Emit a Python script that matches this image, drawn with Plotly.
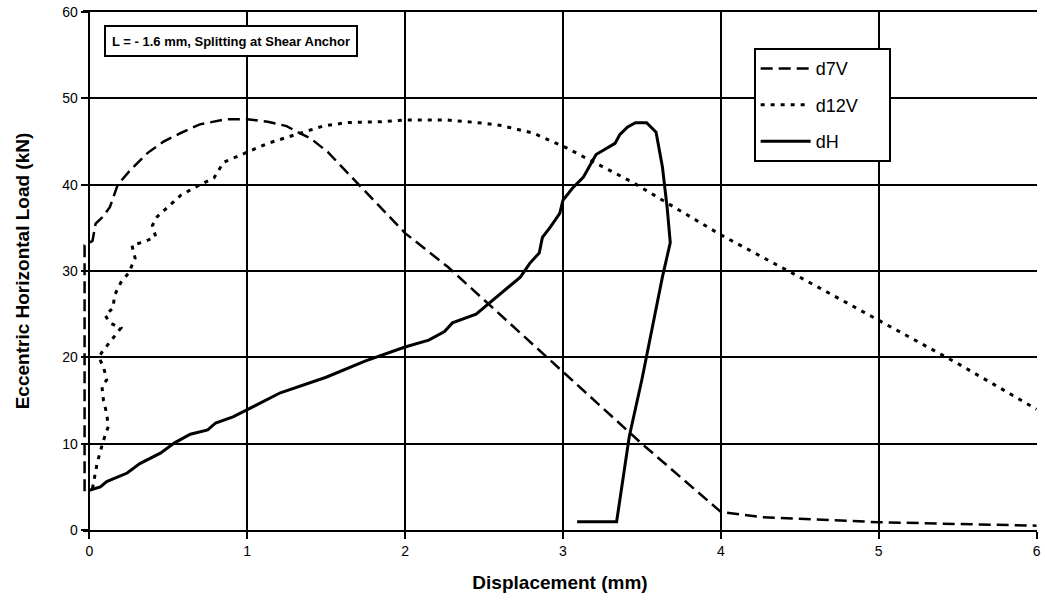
import plotly.graph_objects as go

# ---- data ----
d7v_x = [-0.03, -0.03, 0.02, 0.04, 0.08, 0.13, 0.18, 0.26, 0.37, 0.47, 0.58, 0.70, 0.87, 1.00,
         1.13, 1.25, 1.32, 1.40, 1.51, 2.00, 2.27, 3.00, 3.50, 4.00, 4.25, 4.50, 5.00, 5.50, 6.00]
d7v_y = [4.5, 33.0, 33.5, 35.5, 36.2, 37.4, 40.0, 41.7, 43.7, 45.0, 46.0, 47.0, 47.6, 47.6,
         47.3, 46.8, 46.1, 45.4, 43.8, 34.4, 30.5, 18.3, 10.0, 2.1, 1.5, 1.3, 0.9, 0.7, 0.5]

d12v_x = [0.02, 0.05, 0.09, 0.12, 0.11, 0.09, 0.08, 0.11, 0.09, 0.06, 0.08, 0.15, 0.20, 0.13,
          0.10, 0.15, 0.16, 0.20, 0.25, 0.29, 0.27, 0.35, 0.42, 0.40, 0.43, 0.49, 0.58, 0.70,
          0.79, 0.85, 1.00, 1.13, 1.34, 1.48, 1.63, 1.84, 2.01, 2.27, 2.46, 2.60, 2.81, 3.02,
          3.23, 3.44, 3.65, 3.87, 4.00, 4.50, 5.00, 5.50, 6.00]
d12v_y = [4.8, 7.8, 10.4, 12.0, 13.5, 15.0, 16.6, 17.4, 18.9, 20.0, 20.6, 22.2, 23.4, 24.0,
          24.9, 25.7, 27.2, 28.7, 29.8, 31.5, 33.0, 33.4, 34.0, 35.3, 36.3, 37.3, 38.8, 40.0,
          40.8, 42.6, 43.8, 44.8, 46.0, 46.8, 47.2, 47.3, 47.5, 47.5, 47.2, 46.9, 46.0, 44.3,
          42.3, 40.3, 38.0, 35.6, 34.2, 29.3, 24.3, 19.3, 14.0]

dh_x = [0.00, 0.07, 0.11, 0.24, 0.32, 0.45, 0.54, 0.64, 0.75, 0.80, 0.91, 1.02, 1.21, 1.50,
        1.75, 2.00, 2.15, 2.25, 2.30, 2.45, 2.55, 2.65, 2.73, 2.79, 2.85, 2.87, 2.92, 2.98,
        3.00, 3.06, 3.13, 3.21, 3.33, 3.36, 3.41, 3.46, 3.53, 3.59, 3.63, 3.66, 3.68, 3.63,
        3.50, 3.42, 3.34, 3.34, 3.09]
dh_y = [4.6, 5.0, 5.6, 6.6, 7.7, 8.9, 10.1, 11.1, 11.6, 12.4, 13.1, 14.1, 15.9, 17.7,
        19.6, 21.2, 22.0, 23.0, 24.0, 25.0, 26.5, 28.0, 29.3, 30.9, 32.1, 33.9, 35.1, 36.7,
        38.2, 39.6, 40.9, 43.5, 44.8, 45.8, 46.7, 47.2, 47.2, 46.1, 42.1, 37.4, 33.3, 29.3,
        17.4, 10.8, 1.5, 0.95, 0.95]

x_ticks = [0, 1, 2, 3, 4, 5, 6]
y_ticks = [0, 10, 20, 30, 40, 50, 60]
note_text = "L = - 1.6 mm, Splitting at Shear Anchor"

FONT = "Liberation Sans, Arial, sans-serif"
PAD = "\u00a0\u00a0\u00a0\u00a0\u00a0"

fig = go.Figure()
fig.add_trace(go.Scatter(x=d7v_x, y=d7v_y, mode="lines", name="d7V" + PAD, legendgroup="a",
                         line=dict(color="black", width=2.5, dash="12px,6px")))
fig.add_trace(go.Scatter(x=d12v_x, y=d12v_y, mode="lines", name="d12V" + PAD, legendgroup="b",
                         line=dict(color="black", width=3, dash="4px,6px")))
fig.add_trace(go.Scatter(x=dh_x, y=dh_y, mode="lines", name="dH" + PAD, legendgroup="c",
                         line=dict(color="black", width=3)))

fig.update_layout(
    width=1045, height=607,
    margin=dict(l=83, r=8, t=12, b=77, autoexpand=False),
    paper_bgcolor="white", plot_bgcolor="white",
    font=dict(family=FONT, color="black", size=14),
    showlegend=True,
    legend=dict(x=0.703, y=0.93, xanchor="left", yanchor="top",
                bgcolor="white", bordercolor="black", borderwidth=2,
                font=dict(size=18), tracegroupgap=10,
                itemwidth=50),
    annotations=[dict(text="<b>" + note_text + "</b>", xref="paper", yref="paper",
                      x=0.022, y=0.975, xanchor="left", yanchor="top", showarrow=False,
                      font=dict(size=13, family=FONT), bgcolor="white",
                      width=248, height=26, align="center",
                      bordercolor="black", borderwidth=2, borderpad=1)],
)

fig.update_xaxes(
    range=[-0.04, 6.003], tickvals=x_ticks, ticktext=[str(v) for v in x_ticks],
    automargin=False,
    showgrid=True, gridcolor="black", gridwidth=1.5,
    zeroline=True, zerolinecolor="black", zerolinewidth=1.5,
    showline=True, linecolor="black", linewidth=1.5, mirror=True,
    ticks="outside", ticklen=7, tickcolor="black", tickwidth=1.5,
    tickfont=dict(size=14),
    title=dict(text="<b>Displacement (mm)</b>", font=dict(size=19), standoff=18),
)
fig.update_yaxes(
    range=[0, 60.02], tickvals=y_ticks, ticktext=[str(v) for v in y_ticks],
    anchor="free", position=0.0066, automargin=False,
    showgrid=True, gridcolor="black", gridwidth=1.5,
    zeroline=False,
    showline=True, linecolor="black", linewidth=1.5,
    ticks="outside", ticklen=8, tickcolor="black", tickwidth=1.5,
    tickfont=dict(size=14),
    title=dict(text="<b>Eccentric Horizontal Load (kN)</b>", font=dict(size=19), standoff=27),
)

# remove the browser's default 8px body margin so the figure sits at the page origin
fig.write_html("out.html", config={"displayModeBar": False},
               post_script="document.body.style.margin='0';")
